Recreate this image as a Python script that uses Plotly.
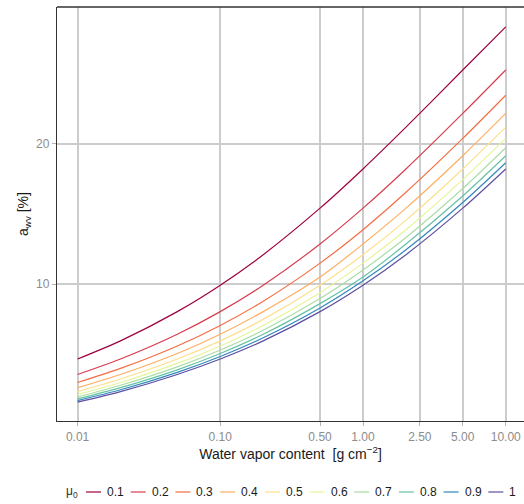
import plotly.graph_objects as go

# ---- data ----
water_vapor = [0.01, 0.02, 0.05, 0.1, 0.2, 0.5, 1, 2, 5, 10]
mu0_labels = ["0.1", "0.2", "0.3", "0.4", "0.5", "0.6", "0.7", "0.8", "0.9", "1"]
a_mu01 = [4.67, 5.96, 8.04, 9.92, 12.09, 15.40, 18.19, 21.16, 25.23, 28.30]
a_mu02 = [3.57, 4.67, 6.43, 8.04, 9.92, 12.85, 15.40, 18.19, 22.14, 25.23]
a_mu03 = [3.00, 4.00, 5.60, 7.06, 8.78, 11.49, 13.87, 16.53, 20.36, 23.43]
a_mu04 = [2.63, 3.57, 5.06, 6.43, 8.04, 10.50, 12.85, 15.40, 19.13, 22.14]
a_mu05 = [2.35, 3.25, 4.67, 5.96, 7.49, 9.92, 12.09, 14.55, 18.19, 21.16]
a_mu06 = [2.14, 3.00, 4.36, 5.60, 7.06, 9.39, 11.49, 13.87, 17.43, 20.36]
a_mu07 = [1.97, 2.80, 4.11, 5.31, 6.72, 8.97, 11.00, 13.32, 16.80, 19.70]
a_mu08 = [1.83, 2.63, 3.90, 5.06, 6.43, 8.61, 10.50, 12.85, 16.27, 19.13]
a_mu09 = [1.71, 2.48, 3.72, 4.85, 6.18, 8.30, 10.23, 12.44, 15.80, 18.63]
a_mu10 = [1.60, 2.35, 3.57, 4.67, 5.96, 8.04, 9.92, 12.09, 15.40, 18.19]
series = [a_mu01, a_mu02, a_mu03, a_mu04, a_mu05, a_mu06, a_mu07, a_mu08, a_mu09, a_mu10]

x_tickvals = [0.01, 0.1, 0.5, 1, 2.5, 5, 10]
x_ticktext = ["0.01", "0.10", "0.50", "1.00", "2.50", "5.00", "10.00"]
y_tickvals = [10, 20]
y_ticktext = ["10", "20"]

colors = ["#9E0142", "#D53E4F", "#F46D43", "#FDAE61", "#FEE08B",
          "#E6F598", "#ABDDA4", "#66C2A5", "#3288BD", "#5E4FA2"]

# ---- layout geometry (pixels) ----
W, H = 524, 504
L, R, T, B = 57, 0, 7, 83
PW = W - L - R
PH = H - T - B
FONT = "Liberation Sans, Arial, sans-serif"


def px_x(px):
    return (px - L) / PW


def px_y(py):
    return (H - B - py) / PH


fig = go.Figure()
for lab, vals, col in zip(mu0_labels, series, colors):
    fig.add_trace(go.Scatter(
        x=water_vapor, y=vals, mode="lines", name=lab,
        line=dict(color=col, width=1.2, shape="spline", smoothing=0.8),
        showlegend=False,
    ))

shapes = [
    # top border of panel
    dict(type="line", xref="paper", yref="paper", x0=0, x1=1, y0=1, y1=1,
         line=dict(color="#333333", width=1.3), layer="above"),
]
annotations = [
    dict(text="μ<sub>0</sub>", xref="paper", yref="paper",
         x=px_x(64), y=px_y(492), xanchor="left", yanchor="middle",
         showarrow=False, font=dict(family=FONT, size=12, color="#333333")),
]
leg_start, leg_step, leg_len, y_leg = 86, 44.7, 15, 492
for i, (lab, col) in enumerate(zip(mu0_labels, colors)):
    x0 = leg_start + i * leg_step
    shapes.append(dict(type="line", xref="paper", yref="paper",
                       x0=px_x(x0), x1=px_x(x0 + leg_len),
                       y0=px_y(y_leg), y1=px_y(y_leg),
                       line=dict(color=col, width=1.2)))
    annotations.append(dict(text=lab, xref="paper", yref="paper",
                            x=px_x(x0 + leg_len + 4), y=px_y(y_leg),
                            xanchor="left", yanchor="middle", showarrow=False,
                            font=dict(family=FONT, size=12, color="#1a1a1a")))

fig.update_layout(
    width=W, height=H,
    margin=dict(l=L, r=R, t=T, b=B, pad=0),
    paper_bgcolor="white", plot_bgcolor="white",
    font=dict(family=FONT, size=12, color="#1a1a1a"),
    shapes=shapes, annotations=annotations,
    xaxis=dict(
        type="log", range=[-2.144, 1.128],
        tickvals=x_tickvals, ticktext=x_ticktext,
        showgrid=True, gridcolor="#CCCCCC", gridwidth=1.5,
        ticks="outside", ticklen=4, tickcolor="#B3B3B3", tickwidth=1,
        tickfont=dict(family=FONT, size=12, color="#8C8C8C"),
        showline=True, linecolor="#333333", linewidth=1.3, mirror=False,
        zeroline=False,
        title=dict(text="Water vapor content  [g cm<sup>−2</sup>]",
                   font=dict(family=FONT, size=14, color="#1a1a1a"), standoff=6),
    ),
    yaxis=dict(
        range=[0.26, 29.71],
        tickvals=y_tickvals, ticktext=y_ticktext,
        showgrid=True, gridcolor="#CCCCCC", gridwidth=1.5,
        ticks="outside", ticklen=4, tickcolor="#B3B3B3", tickwidth=1,
        tickfont=dict(family=FONT, size=12, color="#8C8C8C"),
        showline=True, linecolor="#333333", linewidth=1.3, mirror=False,
        zeroline=False,
        title=dict(text="a<sub>wv</sub> [%]",
                   font=dict(family=FONT, size=14, color="#1a1a1a"), standoff=4),
    ),
)

fig.write_html("out.html")
